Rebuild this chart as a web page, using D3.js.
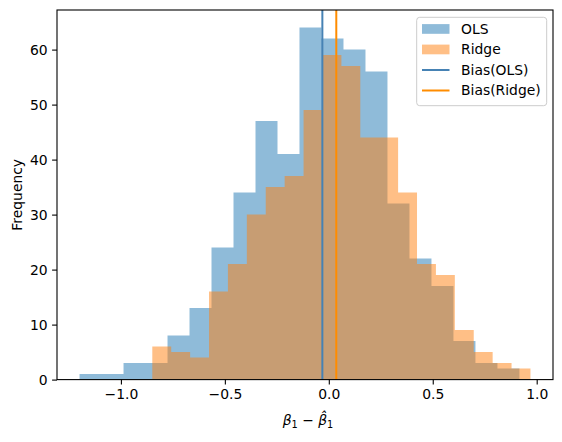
<!DOCTYPE html>
<html>
<head>
<meta charset="utf-8">
<script src="https://cdn.jsdelivr.net/npm/d3@7"></script>
<style>
  body { margin: 0; background: #fff; }
  text { font-family: "DejaVu Sans", sans-serif; }
</style>
</head>
<body>
<svg id="chart"></svg>
<script>
// histogram counts, 20 bins each
const olsCounts   = [1, 1, 3, 3, 8, 13, 24, 34, 47, 41, 64, 62, 60, 56, 32, 22, 17, 7, 3, 2];
const ridgeCounts = [6, 5, 4, 16, 21, 30, 35, 37, 49, 59, 57, 44, 44, 34, 21, 19, 9, 5, 3, 2];
const olsRange   = [-1.199, 0.917];
const ridgeRange = [-0.849, 0.970];
const biasOLS   = -0.031;
const biasRidge = 0.036;
const xTicks = [-1.0, -0.5, 0.0, 0.5, 1.0];
const yTicks = [0, 10, 20, 30, 40, 50, 60];
const legendItems = [
  { label: "OLS", type: "patch", color: "#1f77b4" },
  { label: "Ridge", type: "patch", color: "#ff7f0e" },
  { label: "Bias(OLS)", type: "line", color: "steelblue" },
  { label: "Bias(Ridge)", type: "line", color: "darkorange" }
];

const W = 562, H = 442;
const plot = { left: 57, right: 553, top: 10, bottom: 379.6 };
const fontSize = 13.9;

const svg = d3.select("#chart")
    .attr("width", W)
    .attr("height", H);

// x domain = data extent + 5% margins (matplotlib style)
const lo = Math.min(olsRange[0], ridgeRange[0]);
const hi = Math.max(olsRange[1], ridgeRange[1]);
const pad = (hi - lo) * 0.05;
const x = d3.scaleLinear()
    .domain([lo - pad, hi + pad])
    .range([plot.left, plot.right]);

const yMax = d3.max(olsCounts.concat(ridgeCounts)) * 1.05;
const y = d3.scaleLinear()
    .domain([0, yMax])
    .range([plot.bottom, plot.top]);

function bins(counts, range) {
  const w = (range[1] - range[0]) / counts.length;
  return counts.map((c, i) => ({ x0: range[0] + i * w, x1: range[0] + (i + 1) * w, n: c }));
}

// one step-shaped path per histogram, so no seams between bars
function drawHist(counts, range, color) {
  const b = bins(counts, range);
  const path = d3.path();
  path.moveTo(x(b[0].x0), y(0));
  b.forEach(d => {
    path.lineTo(x(d.x0), y(d.n));
    path.lineTo(x(d.x1), y(d.n));
  });
  path.lineTo(x(b[b.length - 1].x1), y(0));
  path.closePath();
  svg.append("path")
    .attr("d", path.toString())
    .attr("fill", color)
    .attr("fill-opacity", 0.5);
}

drawHist(olsCounts, olsRange, "#1f77b4");
drawHist(ridgeCounts, ridgeRange, "#ff7f0e");

// bias lines
[[biasOLS, "steelblue"], [biasRidge, "darkorange"]].forEach(([b, c]) => {
  svg.append("line")
    .attr("x1", x(b)).attr("x2", x(b))
    .attr("y1", plot.top).attr("y2", plot.bottom)
    .attr("stroke", c)
    .attr("stroke-width", 2);
});

// axes
const xAxis = svg.append("g")
    .attr("transform", `translate(0,${plot.bottom})`)
    .call(d3.axisBottom(x).tickValues(xTicks).tickFormat(d3.format(".1f"))
      .tickSizeInner(4.9).tickSizeOuter(0).tickPadding(4.5));
const yAxis = svg.append("g")
    .attr("transform", `translate(${plot.left},0)`)
    .call(d3.axisLeft(y).tickValues(yTicks).tickFormat(d3.format("d"))
      .tickSizeInner(4.9).tickSizeOuter(0).tickPadding(4.5));

[xAxis, yAxis].forEach(a => {
  a.select(".domain").remove();
  a.selectAll("line").attr("stroke", "#000").attr("stroke-width", 1.1);
  a.selectAll("text")
    .attr("font-family", "DejaVu Sans")
    .attr("font-size", fontSize)
    .attr("fill", "#000");
});

// spines
svg.append("rect")
    .attr("x", plot.left)
    .attr("y", plot.top)
    .attr("width", plot.right - plot.left)
    .attr("height", plot.bottom - plot.top)
    .attr("fill", "none")
    .attr("stroke", "#000")
    .attr("stroke-width", 1.1);

// axis labels
svg.append("text")
    .attr("transform", `translate(22,${(plot.top + plot.bottom) / 2}) rotate(-90)`)
    .attr("text-anchor", "middle")
    .attr("font-size", fontSize)
    .text("Frequency");

const xl = svg.append("text")
    .attr("x", (plot.left + plot.right) / 2 + 3)
    .attr("y", 425)
    .attr("text-anchor", "middle")
    .attr("font-size", fontSize);
xl.append("tspan").attr("font-style", "italic").text("β");
xl.append("tspan").attr("font-size", fontSize * 0.7).attr("dy", 3).text("1");
xl.append("tspan").attr("dy", -3).text(" − ");
xl.append("tspan").attr("font-style", "italic").text("β\u0302");
xl.append("tspan").attr("font-size", fontSize * 0.7).attr("dy", 3).text("1");

// legend
const lg = svg.append("g");
lg.append("rect")
    .attr("x", 416.7).attr("y", 17.3)
    .attr("width", 130).attr("height", 88.4)
    .attr("rx", 3)
    .attr("fill", "#fff").attr("fill-opacity", 0.8)
    .attr("stroke", "#cccccc").attr("stroke-width", 1);

legendItems.forEach((d, i) => {
  const cy = 29 + i * 20.5;
  const row = lg.append("g").attr("transform", `translate(422,${cy})`);
  if (d.type === "patch") {
    row.append("rect")
      .attr("x", 0).attr("y", -4.9)
      .attr("width", 27.5).attr("height", 9.7)
      .attr("fill", d.color).attr("fill-opacity", 0.5);
  } else {
    row.append("line")
      .attr("x1", 0).attr("x2", 27.5)
      .attr("stroke", d.color).attr("stroke-width", 2);
  }
  row.append("text")
    .attr("x", 39)
    .attr("dy", "0.35em")
    .attr("font-size", fontSize)
    .text(d.label);
});
</script>
</body>
</html>
